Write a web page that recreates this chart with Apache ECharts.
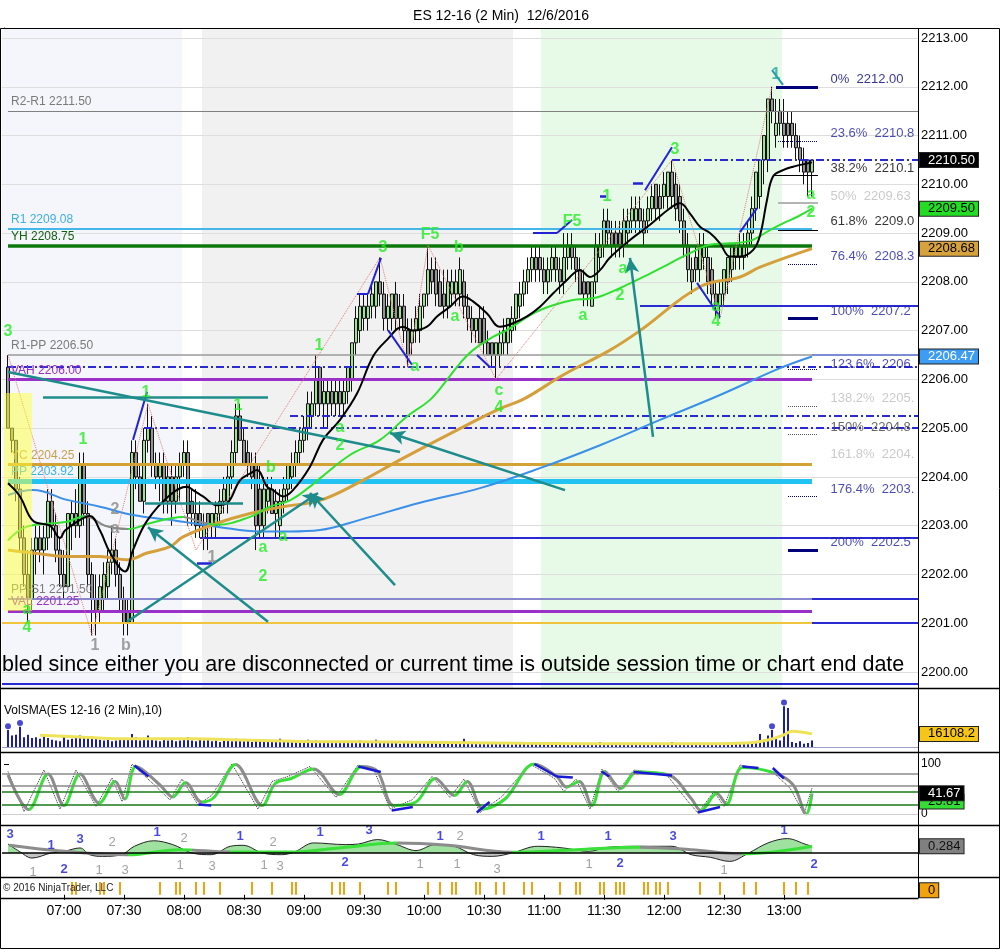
<!DOCTYPE html>
<html><head><meta charset="utf-8">
<script src="https://cdn.jsdelivr.net/npm/echarts@6/dist/echarts.min.js"></script>
<style>html,body{margin:0;padding:0;background:#fff}#c{width:1002px;height:952px}</style>
</head><body><div id="c"></div><script>
const FONT = '"Liberation Sans", Arial, sans-serif';
const NARROW = '"Liberation Sans Narrow", "Liberation Sans", Arial, sans-serif';
const N_SLOTS = 229;
const FIRST = 1;

// ---- price bars (2-min, 06:32 .. 13:14) ----
const opens = [
2206.25,2205.0,2204.75,2203.75,2202.75,2202.0,2201.5,2202.5,2202.75,2202.5,
2202.75,2203.5,2203.0,2202.5,2202.0,2201.75,2203.0,2203.25,2203.0,2204.25,
2203.25,2202.0,2201.5,2201.25,2201.5,2201.75,2202.25,2202.5,2202.0,2201.5,
2201.25,2201.0,2204.5,2204.0,2203.5,2204.75,2205.0,2204.25,2204.0,2204.25,
2203.5,2204.0,2203.5,2204.0,2204.25,2204.5,2203.5,2203.25,2203.25,2202.75,
2203.25,2203.0,2203.0,2203.25,2203.5,2203.5,2204.0,2204.5,2205.25,2204.75,
2204.5,2204.25,2204.25,2203.75,2203.0,2203.5,2203.75,2203.25,2203.0,2203.5,
2203.75,2204.0,2204.25,2204.5,2204.75,2205.0,2205.25,2205.5,2206.25,2205.5,
2205.5,2205.75,2205.5,2205.75,2205.5,2205.75,2206.0,2206.75,2207.0,2207.25,
2207.25,2207.5,2207.5,2208.0,2207.75,2207.25,2207.25,2207.75,2207.25,2207.5,
2207.0,2206.75,2207.0,2207.0,2207.5,2207.75,2208.25,2208.25,2208.0,2207.75,
2207.5,2207.75,2207.75,2207.75,2208.0,2207.5,2207.25,2207.0,2207.25,2207.25,
2206.75,2206.75,2206.5,2206.5,2206.75,2206.75,2207.0,2207.25,2207.5,2207.75,
2208.0,2208.25,2208.5,2208.5,2208.25,2208.0,2208.25,2208.5,2208.25,2208.0,
2208.5,2208.75,2208.5,2208.25,2208.0,2208.0,2207.5,2208.0,2208.5,2208.75,
2209.25,2209.0,2209.0,2209.0,2208.75,2209.0,2209.25,2209.25,2209.5,2209.25,
2209.25,2209.5,2210.0,2209.75,2209.75,2209.75,2210.25,2210.0,2209.75,2209.25,
2208.75,2208.25,2208.5,2208.25,2208.5,2208.5,2208.25,2207.75,2207.5,2207.75,
2208.0,2208.25,2208.5,2208.5,2208.5,2208.75,2209.0,2209.5,2209.75,2210.5,
2210.5,2211.75,2211.0,2211.5,2211.25,2211.25,2211.25,2211.0,2210.75,2210.5,
2210.5,2210.25];
const highs = [
2206.5,2205.0,2204.75,2204.0,2203.0,2202.5,2202.75,2203.0,2203.0,2203.0,
2203.75,2203.75,2203.25,2202.75,2202.5,2203.25,2203.5,2203.75,2204.5,2204.5,
2203.5,2202.25,2202.0,2202.0,2202.25,2202.5,2203.0,2202.75,2202.25,2201.75,
2201.5,2204.75,2204.75,2204.25,2205.0,2205.5,2205.25,2204.5,2204.5,2204.5,
2204.25,2204.25,2204.25,2204.5,2204.75,2204.75,2203.75,2203.75,2203.5,2203.25,
2203.25,2203.25,2203.5,2203.75,2204.0,2204.25,2204.75,2205.5,2205.5,2205.0,
2204.75,2204.5,2204.5,2204.25,2204.0,2204.0,2204.0,2203.75,2203.75,2204.0,
2204.25,2204.5,2204.75,2205.0,2205.25,2205.75,2205.75,2206.5,2206.25,2206.0,
2206.0,2206.0,2206.0,2206.0,2206.0,2206.25,2206.75,2207.5,2207.75,2207.75,
2207.75,2208.0,2208.0,2208.5,2208.0,2207.75,2207.75,2208.0,2207.75,2207.75,
2207.25,2207.25,2207.5,2207.75,2207.75,2208.75,2208.5,2208.5,2208.25,2208.25,
2208.25,2208.25,2208.25,2208.5,2208.25,2207.75,2207.5,2207.25,2207.5,2207.5,
2207.0,2206.75,2206.75,2207.0,2207.25,2207.25,2207.5,2207.75,2208.0,2208.25,
2208.5,2208.75,2208.75,2208.75,2208.5,2208.5,2208.75,2208.75,2208.5,2209.0,
2209.0,2209.0,2208.75,2208.5,2208.25,2208.0,2208.0,2209.0,2209.0,2209.5,
2209.5,2209.25,2209.25,2209.25,2209.5,2209.5,2209.75,2209.75,2209.75,2209.5,
2209.75,2210.0,2210.0,2210.0,2210.25,2210.25,2210.5,2210.25,2210.0,2209.5,
2209.0,2208.5,2208.75,2209.0,2209.0,2208.75,2208.5,2208.0,2208.0,2208.25,
2208.5,2208.75,2208.75,2209.0,2209.0,2209.25,2209.75,2210.25,2210.5,2211.0,
2211.75,2212.0,2211.75,2211.75,2211.75,2211.5,2211.5,2211.25,2211.0,2210.75,
2210.5,2210.5];
const lows = [
2205.0,2204.5,2203.5,2202.5,2201.75,2201.0,2201.25,2202.0,2202.25,2202.0,
2202.5,2202.75,2202.25,2201.75,2201.5,2201.75,2202.5,2202.75,2202.75,2203.0,
2201.75,2200.75,2200.75,2201.0,2201.25,2201.5,2202.0,2201.75,2201.25,2200.75,
2200.75,2201.0,2203.75,2203.5,2203.25,2204.5,2204.0,2203.75,2203.5,2203.25,
2203.25,2203.0,2203.25,2203.5,2204.0,2203.0,2203.0,2202.75,2202.75,2202.5,
2202.5,2202.75,2202.75,2203.0,2203.25,2203.25,2203.75,2204.25,2204.75,2204.25,
2204.0,2203.75,2202.5,2202.75,2202.75,2203.25,2203.25,2202.75,2202.75,2203.25,
2203.5,2203.75,2204.0,2204.25,2204.5,2204.75,2205.0,2205.25,2205.25,2205.0,
2205.0,2205.25,2205.25,2205.25,2205.25,2205.5,2205.75,2206.5,2206.75,2207.0,
2207.0,2207.25,2207.25,2207.5,2207.0,2207.0,2207.0,2207.0,2207.0,2206.75,
2206.25,2206.5,2206.75,2206.75,2207.25,2207.5,2207.75,2207.5,2207.5,2207.25,
2207.25,2207.5,2207.5,2207.5,2207.25,2207.0,2206.75,2206.75,2206.75,2206.5,
2206.5,2206.25,2206.0,2206.25,2206.5,2206.5,2206.75,2207.0,2207.25,2207.5,
2207.75,2208.0,2208.0,2208.0,2207.75,2207.75,2208.0,2208.0,2207.75,2207.75,
2208.25,2208.25,2208.0,2207.75,2207.5,2207.5,2207.5,2207.75,2208.25,2208.5,
2208.75,2208.5,2208.5,2208.5,2208.5,2208.75,2209.0,2209.0,2209.0,2208.75,
2209.0,2209.25,2209.25,2209.25,2209.5,2209.5,2209.5,2209.25,2209.0,2208.5,
2208.0,2207.75,2208.0,2208.0,2208.25,2207.75,2207.5,2207.25,2207.25,2207.5,
2207.75,2208.0,2208.25,2208.25,2208.25,2208.5,2208.75,2209.25,2209.5,2210.0,
2210.25,2211.25,2210.75,2211.0,2210.75,2210.75,2210.75,2210.5,2210.25,2210.0,
2209.75,2209.75];
const closes = [
2205.0,2204.75,2203.75,2202.75,2202.0,2201.5,2202.5,2202.75,2202.5,2202.75,
2203.5,2203.0,2202.5,2202.0,2201.75,2203.25,2203.25,2203.0,2204.25,2203.25,
2202.0,2201.5,2201.25,2201.75,2202.0,2202.25,2202.5,2202.0,2201.5,2201.0,
2201.0,2204.5,2204.0,2203.5,2204.75,2205.0,2204.25,2204.0,2204.25,2203.5,
2204.0,2203.5,2204.0,2204.25,2204.5,2203.25,2203.25,2203.0,2203.0,2203.0,
2203.0,2203.25,2203.25,2203.5,2203.75,2204.0,2204.5,2205.25,2204.75,2204.25,
2204.25,2204.0,2203.0,2203.0,2203.75,2203.75,2203.25,2203.5,2203.5,2203.75,
2204.25,2204.25,2204.5,2204.75,2205.0,2205.5,2205.5,2206.0,2205.5,2205.75,
2205.75,2205.5,2205.75,2205.5,2205.75,2206.25,2206.75,2207.25,2207.5,2207.5,
2207.5,2207.75,2208.0,2207.75,2207.25,2207.5,2207.75,2207.25,2207.5,2207.0,
2206.5,2207.0,2207.25,2207.5,2207.75,2208.25,2208.0,2207.75,2207.5,2207.5,
2208.0,2208.0,2208.0,2208.25,2207.5,2207.25,2207.0,2207.25,2206.75,2206.75,
2206.5,2206.5,2206.75,2206.75,2207.0,2207.25,2207.25,2207.75,2207.75,2208.0,
2208.25,2208.5,2208.25,2208.25,2208.0,2208.25,2208.5,2208.25,2208.0,2208.5,
2208.75,2208.5,2208.25,2207.75,2207.75,2207.75,2208.0,2208.75,2208.75,2209.25,
2209.0,2208.75,2208.75,2208.75,2209.25,2209.25,2209.5,2209.5,2209.25,2209.0,
2209.5,2209.75,2209.5,2209.5,2210.0,2210.25,2209.75,2209.5,2209.25,2208.75,
2208.25,2208.0,2208.25,2208.75,2208.75,2208.0,2207.75,2207.5,2207.75,2208.25,
2208.5,2208.75,2208.75,2208.75,2208.75,2209.0,2209.5,2210.25,2210.5,2211.0,
2211.75,2211.5,2211.25,2211.25,2211.0,2211.0,2211.0,2210.75,2210.5,2210.25,
2210.25,2210.5];

const volumes = [
21000,14000,15000,25000,12000,15000,11000,12000,10000,13000,
11000,9000,8000,7000,13000,9000,10000,12000,14000,11000,
12000,13000,10000,9000,8000,9000,7000,8000,10000,11000,
9000,16000,12000,8000,10000,14000,9000,8000,7000,9000,
8000,10000,7000,8000,9000,12000,8000,7000,9000,8000,
10000,7000,8000,6000,9000,8000,7000,10000,9000,7000,
8000,6000,9000,8000,7000,8000,6000,7000,10000,8000,
7000,6000,8000,7000,6000,9000,7000,8000,6000,7000,
6000,5000,7000,6000,5000,6000,7000,5000,8000,6000,
5000,6000,9000,7000,6000,5000,6000,5000,4000,6000,
5000,7000,6000,5000,6000,7000,5000,6000,5000,4000,
5000,4000,6000,5000,10000,5000,4000,5000,4000,5000,
4000,6000,4000,5000,4000,5000,3000,4000,5000,4000,
3000,4000,3000,4000,5000,3000,4000,3000,5000,4000,
3000,4000,3000,5000,4000,3000,4000,5000,6000,4000,
3000,4000,3000,4000,5000,4000,3000,4000,3000,4000,
5000,4000,3000,4000,5000,4000,6000,5000,4000,3000,
4000,5000,4000,3000,4000,5000,4000,3000,4000,5000,
4000,3000,4000,5000,4000,5000,6000,7000,16000,9000,
14000,21000,12000,8000,50000,48000,6000,5000,7000,4000,
5000,8000];
const volSma = [[9,14500],[20,12000],[31,10000],[47,10000],[60,8500],[79,6500],[95,6200],[111,5500],[130,4500],[143,4100],[160,4000],[175,4100],[186,5000],[191,8500],[195,15000],[197,19400],[202,16108]];
const volDotBars = [1,4,192,195];

// ---- moving averages [bar, price] ----
const fastMa = [[1,2203.87],[4,2203.6],[7.25,2203.1],[11.5,2203.0],[14,2202.75],[15.25,2202.9],[19,2203.12],[21.5,2203.2],[24,2202.9],[26.5,2202.45],[30.25,2202.06],[32.25,2202.5],[35.75,2203.1],[41.5,2203.63],[45.75,2203.8],[47.25,2203.73],[49.75,2203.6],[53.25,2203.42],[55.75,2203.46],[59,2203.93],[61.5,2204.07],[63.25,2204.14],[65.75,2203.8],[67.25,2203.73],[69.75,2203.6],[72.25,2203.73],[76.5,2204.21],[79.75,2204.76],[84,2205.17],[88.25,2205.71],[92.25,2206.47],[95.75,2206.81],[99.75,2207.08],[102.25,2207.0],[105.75,2207.08],[108.25,2207.29],[111.5,2207.49],[114.75,2207.7],[117.25,2207.6],[120.75,2207.35],[124,2207.08],[127.25,2207.15],[130.75,2207.29],[134,2207.49],[137.25,2207.76],[140.75,2208.04],[144,2208.24],[146.5,2208.1],[149,2208.24],[151.5,2208.5],[156.5,2208.86],[161.5,2209.17],[166.5,2209.51],[169,2209.61],[171.5,2209.4],[174,2209.13],[176.5,2209.0],[179,2208.79],[181.5,2208.52],[184,2208.52],[187.25,2208.65],[189,2208.95],[190.75,2209.68],[192.25,2210.16],[194.75,2210.29],[197.25,2210.36],[202,2210.45]];
const midMa = [[1,2202.7],[5.75,2202.98],[15.75,2203.08],[20.25,2203.2],[25.25,2203.0],[31,2202.93],[36.5,2203.05],[44.75,2203.18],[49,2203.08],[53.25,2203.02],[61.5,2203.18],[66.5,2203.39],[71.5,2203.52],[76.5,2203.8],[79,2203.97],[86.5,2204.45],[94,2204.76],[100.75,2205.24],[106.5,2205.58],[110.75,2205.99],[114,2206.33],[117.25,2206.6],[122.25,2206.87],[125.75,2207.01],[132.25,2207.35],[137.25,2207.52],[142.25,2207.63],[145.75,2207.65],[149,2207.7],[156.5,2207.97],[161.5,2208.17],[166.5,2208.38],[171.5,2208.59],[176.5,2208.76],[181.5,2208.79],[186.5,2208.84],[191.5,2209.06],[194.75,2209.2],[198.25,2209.33],[202,2209.5]];
const slowMa = [[1,2202.5],[7.25,2202.44],[15.75,2202.37],[24,2202.37],[30.75,2202.3],[35.75,2202.44],[41.5,2202.57],[44.75,2202.77],[53.25,2203.05],[61.5,2203.25],[69.75,2203.39],[79,2203.52],[89,2203.9],[99,2204.35],[113,2204.95],[124,2205.4],[130,2205.6],[140,2206.1],[151.5,2206.6],[159,2207.0],[174,2207.9],[184,2208.1],[189,2208.3],[202,2208.68]];
const longMa = [[1,2203.63],[7.25,2203.73],[15.75,2203.53],[24,2203.39],[32.25,2203.22],[41.5,2203.12],[44.75,2203.08],[53.25,2202.98],[64,2202.88],[71.5,2202.88],[79,2202.91],[89,2203.12],[104,2203.47],[119,2203.77],[134,2204.18],[149,2204.65],[164,2205.17],[179,2205.68],[194,2206.23],[202,2206.47]];
const zigzag = [[1,2206.5],[22,2200.75],[36,2205.5],[48,2202.5],[94,2208.5],[101,2206.25],[106,2208.75],[123,2206.0],[167,2210.5],[179,2207.25],[192,2212.0]];

// ---- pivot / level lines ----
const levelNames = ['R2-R1','R1','YH','R1-PP','VAH','YC','PP','PP-S1','VAL'];
const levelPrices = [2211.50, 2209.08, 2208.75, 2206.50, 2206.00, 2204.25, 2203.92, 2201.50, 2201.25];
const fibPct = ['0%','23.6%','38.2%','50%','61.8%','76.4%','100%','123.6%','138.2%','150%','161.8%','176.4%','200%'];
const fibPrices = ['2212.00','2210.88','2210.19','2209.63','2209.06','2208.37','2207.25','2206.2','2205.4','2204.88','2204.3','2203.6','2202.50'];
const priceTicks = [2200,2201,2202,2203,2204,2205,2206,2207,2208,2209,2210,2211,2212,2213];

// ---- wave labels [bar, price, text] ----
const greenLabels = [[1,2206.97,'3'],[5.75,2201.27,'a'],[5.75,2200.92,'4'],[19.75,2204.76,'1'],[35.5,2205.72,'1'],[58.5,2205.47,'1'],[66.75,2204.2,'b'],[69.75,2202.77,'a'],[64.75,2202.56,'a'],[64.75,2201.95,'2'],[78.75,2206.7,'1'],[84,2205.02,'a'],[84,2204.65,'2'],[94.75,2208.71,'3'],[106.5,2208.96,'F5'],[113.75,2208.71,'b'],[112.75,2207.28,'a'],[102.75,2206.27,'a'],[123.75,2205.78,'c'],[123.75,2205.43,'4'],[142,2209.23,'F5'],[144.75,2207.3,'a'],[150.75,2209.74,'1'],[154.75,2208.28,'a'],[154,2207.71,'2'],[167.75,2210.72,'3'],[178,2207.5,'a'],[178,2207.18,'4'],[201.75,2209.78,'a'],[201.75,2209.41,'2']];
const grayLabels = [[27.75,2203.32,'2'],[27.75,2202.95,'a'],[22.75,2200.55,'1'],[30.5,2200.55,'b'],[52,2202.34,'1']];
const tealLabels = [[193,2212.24,'1']];

// ---- stochastics [bar, value] ----
const stochD = [[1,78],[6.2,9],[11,80],[15,17],[19,80],[23.8,22],[27.8,65],[30.2,30],[33,95],[39,58],[42.2,34],[45.4,63],[49.4,24],[52.6,34],[57.9,99],[64.6,17],[67.8,61],[71.8,71],[77.4,90],[83.8,39],[89.4,95],[93.4,85],[97.4,17],[103,24],[107.8,71],[112.6,37],[115.8,65],[119.8,10],[125.4,31],[132.6,100],[138.2,75],[140.6,54],[143.8,65],[147,17],[150.2,85],[154.2,51],[158.2,84],[166.2,78],[171.8,31],[174.2,7],[178.2,41],[180.6,20],[184.6,93],[192.6,82],[197.3,58],[200.6,0],[202,41]];
const stochK = [[1,85],[5,5],[10,88],[14,10],[18,88],[23,15],[27,72],[29.5,25],[32,100],[38,55],[41.5,28],[44.5,70],[48.5,18],[52,38],[57,100],[63.5,10],[67,65],[71,75],[76.5,95],[83,33],[88.5,98],[92.5,88],[96.5,10],[102,28],[107,75],[111.5,33],[115,70],[119,3],[124.5,35],[131.5,100],[137.5,72],[140,45],[143,70],[146.5,10],[149.5,90],[153.5,45],[157.5,88],[165.5,80],[171,25],[173.5,2],[177.5,45],[180,15],[184,98],[192,85],[196.5,52],[200,0],[202,52]];
const stochUp = [[6.2,11],[15,19],[23.8,27.8],[30.2,33],[42.2,45.4],[49.4,57.9],[64.6,77.4],[83.8,89.4],[97.4,107.8],[112.6,115.8],[119.8,132.6],[140.6,143.8],[147,150.2],[154.2,166.2],[174.2,178.2],[180.6,192.6],[200.6,202]];
const stochDiv = [[32.6,97,36.1,75],[48.6,19,51.8,17],[88.6,95,94.2,84],[96.9,7,102.2,14],[118.2,3,121.4,24],[132.6,100,138.2,75],[138.2,75,142.2,73],[149.4,85,151.3,75],[157.4,84,167,77],[173.4,3,179,14],[184.6,95,188.6,92],[192.2,92,195,71]];

// ---- oscillator [bar, value] ----
const oscHist = [[1,0.375],[3.8,0.07],[7,-0.21],[11.8,0],[15,0.07],[19,0.21],[21.4,-0.07],[24.6,-0.14],[29.4,-0.07],[32.6,0.28],[37.4,0.51],[42.2,0.35],[47,0],[51.8,-0.07],[56.6,0.28],[59.8,0.32],[64.6,0],[69.4,-0.07],[72.6,0.04],[77.4,0.42],[85.4,0.35],[88.6,0.375],[93.4,0.56],[98.2,0.35],[103,0.1],[107.8,0.35],[112.6,0.28],[117.4,-0.07],[122.2,-0.14],[127,0],[133.4,0.28],[139.8,0.21],[146.2,0.07],[151,0.24],[159,0.28],[167,0.28],[171.8,-0.07],[176.6,-0.18],[181.4,-0.35],[186.2,0],[191,0.42],[195.8,0.6],[200.6,0.35],[202,0.28]];
const oscSignal = [[1.4,0.32],[15,0.07],[31,-0.07],[43.8,0.14],[56.6,0.04],[71,0.04],[85.4,0.24],[98.2,0.42],[111,0.32],[127,0.03],[143,0.14],[159,0.24],[171.8,0.14],[184.6,-0.03],[202,0.284]];
const oscUp = [[31,47],[56.6,98.2],[127,159],[184.6,202]];
const oscBlueLabels = [[1.5,0.79,'3'],[11.75,0.33,'1'],[19,0.58,'3'],[38.25,0.875,'1'],[59,0.71,'1'],[79,0.875,'1'],[91.25,0.96,'3'],[109,0.67,'1'],[134.25,0.67,'1'],[151,0.67,'1'],[167.25,0.71,'3'],[195,0.96,'1'],[15,-0.67,'2'],[85.25,-0.375,'2'],[154,-0.42,'2'],[202.5,-0.46,'2']];
const oscGrayLabels = [[27,0.42,'2'],[45,0.625,'2'],[67.25,0.42,'2'],[114,0.67,'2'],[7.25,-0.79,'1'],[23.75,-0.71,'1'],[30.25,-0.71,'3'],[44,-0.5,'1'],[52,-0.54,'3'],[65,-0.5,'1'],[69,-0.54,'3'],[104,-0.46,'1'],[113.25,-0.46,'1'],[123.25,-0.67,'3'],[146.25,-0.46,'1'],[180,-0.71,'1']];

// ---- bottom strip marker bars ----
const stripBars = [17,18,24,25,29,39,43,44,48,50,54,62,67,72,73,82,84,85,89,96,98,106,109,112,113,118,119,123,125,130,132,139,143,144,149,150,153,154,155,160,161,163,164,166,174,179,185,188,195,198,201];

// ================= build =================
const times = [];
for (let k = 0; k < N_SLOTS; k++) {
  const m = 6 * 60 + 30 + 2 * k;
  times.push(String(Math.floor(m / 60)).padStart(2, '0') + ':' + String(m % 60).padStart(2, '0'));
}
const candleData = times.map((t, k) => {
  const j = k - FIRST;
  return (j >= 0 && j < opens.length) ? [opens[j], closes[j], lows[j], highs[j]] : '-';
});
const volData = times.map((t, k) => {
  const j = k - FIRST;
  return (j >= 0 && j < volumes.length) ? volumes[j] : '-';
});
const stripData = times.map((t, k) => stripBars.indexOf(k) >= 0 ? 1 : '-');
const volDots = volDotBars.map(b => [b, volumes[b - FIRST] + 4500]);

const RIGHT = 228.5;
const FIB_END = 203.5;
const BLUE = '#2a2ad2';
const NAVY = '#00007a';
const TEAL = '#1f8c8c';

function seg(x1, y1, x2, y2, color, width, type, arrow) {
  return [
    {coord: [x1, y1], symbol: 'none', lineStyle: {color: color, width: width, type: type || 'solid'}},
    {coord: [x2, y2], symbol: arrow ? 'arrow' : 'none', symbolSize: arrow ? [11, 15] : 0}
  ];
}
function lvl(i, x1, x2, color, width, labelColor) {
  const s = seg(x1, levelPrices[i], x2, levelPrices[i], color, width);
  s[0].label = {show: true, position: 'insideStartTop', distance: 3, formatter: levelNames[i] + ' ' + levelPrices[i].toFixed(2), color: labelColor, fontSize: 12, fontFamily: FONT};
  return s;
}
function tag(v, text, bg, fg) {
  return {yAxis: v, lineStyle: {width: 0, color: 'rgba(0,0,0,0)'}, label: {show: true, position: 'end', distance: 2, formatter: text, backgroundColor: bg, color: fg, padding: [1, 3, 0, 8], fontSize: 13, fontFamily: FONT, borderColor: '#222', borderWidth: 1}};
}

const levelLines = [
  lvl(0, 1, RIGHT, '#808080', 1, '#7a7a7a'),
  lvl(1, 1, 202, '#45b6ea', 2, '#3eaee2'),
  lvl(2, 1, 202, '#0c780c', 3.5, '#0f5f0f'),
  lvl(3, 1, 202, '#9a9a9a', 1.5, '#7a7a7a'),
  seg(202, 2206.5, RIGHT, 2206.5, '#7d8ad6', 2),
  lvl(4, 1, 202, '#9b30c8', 3, '#9b30c8'),
  lvl(5, 1, 202, '#d2a233', 3, '#c8a04e'),
  lvl(6, 1, 202, '#22c2f2', 5, '#35b4ea'),
  lvl(7, 1, 202, '#8888cc', 2, '#7a7a7a'),
  seg(202, 2201.5, RIGHT, 2201.5, BLUE, 2),
  lvl(8, 1, 202, '#9b30c8', 3, '#9b30c8'),
  seg(-0.5, 2201.0, 202, 2201.0, '#f0c43c', 2),
  seg(202, 2201.0, RIGHT, 2201.0, BLUE, 2),
  seg(1, 2206.25, RIGHT, 2206.25, BLUE, 2, [8, 3, 2, 3]),
  seg(71.5, 2205.25, RIGHT, 2205.25, BLUE, 2, [8, 3, 2, 3]),
  seg(35, 2205.0, RIGHT, 2205.0, BLUE, 2, [8, 3, 2, 3]),
  seg(167, 2210.5, RIGHT, 2210.5, BLUE, 2, [8, 3, 2, 3]),
  seg(159, 2207.5, RIGHT, 2207.5, BLUE, 2),
  seg(49, 2202.75, RIGHT, 2202.75, BLUE, 2),
  seg(-0.5, 2199.75, RIGHT, 2199.75, BLUE, 2),
  seg(193, 2212.0, FIB_END, 2212.0, NAVY, 3),
  seg(193.5, 2210.875, FIB_END, 2210.875, NAVY, 1, 'dotted'),
  seg(192.5, 2210.19, FIB_END, 2210.19, '#000', 1),
  seg(193.5, 2209.63, FIB_END, 2209.63, '#b4b4b4', 2),
  seg(193.5, 2209.06, FIB_END, 2209.06, '#000', 1),
  seg(196, 2208.37, FIB_END, 2208.37, NAVY, 1, 'dotted'),
  seg(196, 2207.25, FIB_END, 2207.25, NAVY, 3),
  seg(196, 2206.2, FIB_END, 2206.2, NAVY, 1, 'dotted'),
  seg(196, 2205.45, FIB_END, 2205.45, '#555', 1, 'dotted'),
  seg(196, 2204.88, FIB_END, 2204.88, '#555', 1, 'dotted'),
  seg(196, 2203.6, FIB_END, 2203.6, NAVY, 1, 'dotted'),
  seg(196, 2202.5, FIB_END, 2202.5, NAVY, 3)
];

const drawLines = [
  seg(32.25, 2204.76, 35.75, 2205.74, '#2323d6', 2),
  seg(48.25, 2202.24, 52, 2202.24, '#2323d6', 2.5),
  seg(88.25, 2207.75, 91, 2207.75, '#2323d6', 2),
  seg(91, 2207.75, 94.25, 2208.49, '#2323d6', 2),
  seg(96, 2207.01, 102, 2206.3, '#2323d6', 2),
  seg(118.25, 2206.5, 121.5, 2206.25, '#2323d6', 2),
  seg(132.25, 2209.0, 138.25, 2209.0, '#2323d6', 2),
  seg(138.25, 2209.0, 142, 2209.27, '#2323d6', 2),
  seg(149, 2209.76, 150.5, 2209.76, '#2323d6', 2.5),
  seg(157.25, 2210.03, 159.75, 2210.03, '#2323d6', 2.5),
  seg(160.25, 2209.88, 167, 2210.76, '#2323d6', 2),
  seg(173.25, 2207.98, 179, 2207.28, '#2323d6', 2),
  seg(184, 2209.02, 188.25, 2209.51, '#2323d6', 2),
  seg(192, 2212.34, 194.75, 2212.04, '#2a9aa8', 2),
  seg(1, 2206.15, 99, 2204.51, TEAL, 2.5),
  seg(9.75, 2205.64, 66, 2205.64, TEAL, 2.5),
  seg(35.25, 2203.46, 59.75, 2203.46, TEAL, 2.5),
  seg(66, 2201.03, 36, 2202.97, TEAL, 2.5, null, true),
  seg(30.75, 2201.03, 78.5, 2203.67, TEAL, 2.5, null, true),
  seg(97.75, 2201.78, 76.5, 2203.67, TEAL, 2.5, null, true),
  seg(140.25, 2203.73, 96.5, 2204.9, TEAL, 2.5, null, true),
  seg(162.25, 2204.82, 156.5, 2208.49, TEAL, 2.5, null, true)
];

const fibColors = [NAVY, '#1c1ca8', '#000', '#bdbdbd', '#000', '#1c1ca8', '#1c1ca8', '#1c1ca8', '#bdbdbd', '#444', '#bdbdbd', '#1c1ca8', '#1c1ca8'];
const fibY = [2212.16, 2211.05, 2210.33, 2209.76, 2209.23, 2208.53, 2207.40, 2206.30, 2205.60, 2205.02, 2204.47, 2203.75, 2202.65];
const fibLabelData = fibPct.map((p, k) => ({
  value: [206.5, fibY[k], p + '  ' + fibPrices[k]],
  label: {color: fibColors[k]}
}));

const series = [];
function add(s) { series.push(Object.assign({silent: true, animation: false}, s)); return series.length - 1; }

add({type: 'line', xAxisIndex: 1, yAxisIndex: 0, data: [], z: 1,
  markArea: {silent: true, z: 1, data: [
    [{xAxis: -0.5, itemStyle: {color: '#f5f6fb'}}, {xAxis: 44.5}],
    [{xAxis: 49.5, itemStyle: {color: '#f1f1f1'}}, {xAxis: 127.25}],
    [{xAxis: 134.25, itemStyle: {color: '#e7fae7'}}, {xAxis: 194.5}]
  ]},
  markLine: {silent: true, z: 1, symbol: ['none', 'none'], label: {show: false}, lineStyle: {color: '#dedede', width: 1, type: 'solid'}, data: priceTicks.map(v => ({yAxis: v}))}
});
add({type: 'candlestick', xAxisIndex: 0, yAxisIndex: 0, data: candleData, barWidth: 3, z: 3,
  itemStyle: {color: '#9fe097', color0: '#959595', borderColor: '#111', borderColor0: '#111', borderWidth: 1}});
add({type: 'line', xAxisIndex: 1, yAxisIndex: 0, data: [], z: 4,
  markLine: {silent: true, z: 4, symbol: ['none', 'none'], label: {show: false}, data: levelLines}});
add({type: 'line', xAxisIndex: 1, yAxisIndex: 0, data: longMa, smooth: 0.4, symbol: 'none', z: 5, lineStyle: {color: '#3a8fe8', width: 2}});
add({type: 'line', xAxisIndex: 1, yAxisIndex: 0, data: slowMa, smooth: 0.4, symbol: 'none', z: 5, lineStyle: {color: '#d5a03c', width: 3}});
const midIdx = add({type: 'line', xAxisIndex: 1, yAxisIndex: 0, data: midMa, smooth: 0.4, symbol: 'none', z: 5, lineStyle: {width: 2}});
add({type: 'line', xAxisIndex: 1, yAxisIndex: 0, data: fastMa, smooth: 0.4, symbol: 'none', z: 6, lineStyle: {color: '#000', width: 2}});
add({type: 'line', xAxisIndex: 1, yAxisIndex: 0, data: zigzag, symbol: 'none', z: 5, lineStyle: {color: '#e07a7a', width: 1, type: 'dotted'}});
add({type: 'line', xAxisIndex: 1, yAxisIndex: 0, data: [], z: 6,
  markArea: {silent: true, z: 6, data: [[{coord: [0, 2205.72], itemStyle: {color: 'rgba(255,255,60,0.5)'}}, {coord: [7, 2201.25]}]]}});
add({type: 'line', xAxisIndex: 1, yAxisIndex: 0, data: [], z: 7,
  markLine: {silent: true, z: 7, symbol: ['none', 'none'], label: {show: false}, data: drawLines}});
const lblStyle = (c, sz, w) => ({show: true, position: 'inside', formatter: p => p.value[2], color: c, fontSize: sz, fontWeight: w || 'bold', fontFamily: FONT, textBorderWidth: 0, textShadowBlur: 0});
const lblSeries = (axisX, axisY, data, c, sz, w) => ({type: 'scatter', xAxisIndex: axisX, yAxisIndex: axisY, symbolSize: 1, z: 8, data: data,
  itemStyle: {color: 'rgba(0,0,0,0)'}, label: lblStyle(c, sz, w)});
add(lblSeries(1, 0, greenLabels, '#22ee22', 16));
add(lblSeries(1, 0, grayLabels, '#888888', 16));
add(lblSeries(1, 0, tealLabels, '#20a8a0', 16));
add({type: 'scatter', xAxisIndex: 1, yAxisIndex: 0, symbolSize: 1, z: 8, data: fibLabelData, itemStyle: {color: 'rgba(0,0,0,0)'},
  label: {show: true, position: 'right', distance: 0, formatter: p => p.value[2], fontSize: 13, fontFamily: FONT, width: 86, overflow: 'truncate', ellipsis: '', textBorderWidth: 0}});
add({type: 'line', xAxisIndex: 1, yAxisIndex: 0, data: [], z: 9,
  markLine: {silent: true, z: 9, symbol: ['none', 'none'], data: [
    tag(2206.47, '2206.47', '#3d9df5', '#fff'),
    tag(2208.68, '2208.68', '#d6a23e', '#000'),
    tag(2209.50, '2209.50', '#24dc24', '#000'),
    tag(2210.50, '2210.50', '#000', '#fff')
  ]}});

// volume panel
add({type: 'bar', xAxisIndex: 2, yAxisIndex: 1, data: volData, barWidth: 2, itemStyle: {color: '#1c1cae'}, z: 3});
add({type: 'line', xAxisIndex: 3, yAxisIndex: 1, data: volSma, smooth: 0.4, symbol: 'none', z: 4, lineStyle: {color: '#efe35a', width: 3}});
add({type: 'scatter', xAxisIndex: 3, yAxisIndex: 1, data: volDots, symbol: 'circle', symbolSize: 6, itemStyle: {color: '#1c1cc8'}, z: 5});
add({type: 'line', xAxisIndex: 3, yAxisIndex: 1, data: [], z: 6,
  markLine: {silent: true, symbol: ['none', 'none'], data: [
    {yAxis: 0, lineStyle: {color: '#9aa0c8', width: 1, type: 'solid'}, label: {show: false}},
    tag(16108.2, '16108.2', '#f5c518', '#000')
  ]}});

// stochastics panel
add({type: 'line', xAxisIndex: 4, yAxisIndex: 2, data: [], z: 2,
  markLine: {silent: true, symbol: ['none', 'none'], label: {show: false}, data: [
    {yAxis: 80, lineStyle: {color: '#8a8a8a', width: 1.5, type: 'solid'}},
    {yAxis: 56, lineStyle: {color: '#8a8a8a', width: 1.5, type: 'solid'}},
    {yAxis: 45, lineStyle: {color: '#1a781a', width: 1.5, type: 'solid'}},
    {yAxis: 19, lineStyle: {color: '#1a781a', width: 1.5, type: 'solid'}},
    {yAxis: 0, lineStyle: {color: '#d0d0d0', width: 1, type: 'solid'}}
  ]}});
add({type: 'line', xAxisIndex: 4, yAxisIndex: 2, data: stochK, symbol: 'none', z: 3, lineStyle: {color: '#222', width: 1, type: 'dotted'}});
const dIdx = add({type: 'line', xAxisIndex: 4, yAxisIndex: 2, data: stochD, smooth: 0.35, symbol: 'none', z: 4, lineStyle: {width: 3}});
add({type: 'line', xAxisIndex: 4, yAxisIndex: 2, data: [], z: 5,
  markLine: {silent: true, symbol: ['none', 'none'], label: {show: false}, data:
    stochDiv.map(d => seg(d[0], d[1], d[2], d[3], '#1a1ad6', 2.5)).concat([
      tag(25, '25.81', '#33dd33', '#000'),
      tag(41.67, '41.67', '#000', '#fff')
    ])}});

// oscillator panel
const histIdx = add({type: 'line', xAxisIndex: 5, yAxisIndex: 3, data: oscHist, smooth: 0.35, symbol: 'none', z: 2, lineStyle: {width: 0}, areaStyle: {opacity: 0.75}});
add({type: 'line', xAxisIndex: 5, yAxisIndex: 3, data: oscHist, smooth: 0.35, symbol: 'none', z: 3, lineStyle: {color: '#222', width: 1}});
add({type: 'line', xAxisIndex: 5, yAxisIndex: 3, data: [], z: 3,
  markLine: {silent: true, symbol: ['none', 'none'], data: [
    {yAxis: 0, lineStyle: {color: '#000', width: 1.5, type: 'solid'}, label: {show: false}},
    tag(0.284, '0.284', '#808080', '#111')
  ]}});
const sigIdx = add({type: 'line', xAxisIndex: 5, yAxisIndex: 3, data: oscSignal, smooth: 0.4, symbol: 'none', z: 4, lineStyle: {width: 3}});
add(lblSeries(5, 3, oscBlueLabels, '#1a1ad6', 13));
add(lblSeries(5, 3, oscGrayLabels, '#8a8a8a', 13, 'normal'));

// bottom strip
add({type: 'bar', xAxisIndex: 6, yAxisIndex: 4, data: stripData, barWidth: 2, itemStyle: {color: '#f2a20c'}, z: 2});
add({type: 'line', xAxisIndex: 6, yAxisIndex: 4, data: [], z: 3,
  markLine: {silent: true, symbol: ['none', 'none'], data: [tag(0.35, '0', '#f2a20c', '#000')]}});

const labIdx = (idx, val) => idx >= 1 && idx <= 202 && (val.slice(3) === '00' || val.slice(3) === '30');
const grids = [
  {left: 2, width: 916, top: 28, height: 660},
  {left: 2, width: 916, top: 690, height: 57},
  {left: 2, width: 916, top: 764, height: 50},
  {left: 2, width: 916, top: 829, height: 48},
  {left: 2, width: 916, top: 880, height: 18}
];
const catAxis = (g, showLab) => ({type: 'category', gridIndex: g, data: times, boundaryGap: true,
  axisLine: {show: false}, splitLine: {show: false},
  axisTick: {show: showLab, interval: labIdx, alignWithLabel: true, length: 5, lineStyle: {color: '#000'}},
  axisLabel: {show: showLab, interval: labIdx, margin: 6, color: '#000', fontSize: 14, fontFamily: NARROW}});
const valAxis = g => ({type: 'value', gridIndex: g, min: -0.5, max: RIGHT, show: false});

const option = {
  animation: false,
  backgroundColor: '#fff',
  title: {text: 'ES 12-16 (2 Min)  12/6/2016', left: 'center', top: 4, textStyle: {fontSize: 14, fontWeight: 'normal', color: '#000', fontFamily: FONT}},
  grid: grids,
  xAxis: [catAxis(0, false), valAxis(0), catAxis(1, false), valAxis(1), valAxis(2), valAxis(3), catAxis(4, true)],
  yAxis: [
    {type: 'value', gridIndex: 0, position: 'right', min: 2199.672, max: 2213.205, scale: true,
      axisLine: {show: true, lineStyle: {color: '#000'}},
      axisTick: {show: true, customValues: priceTicks, length: 5, lineStyle: {color: '#000'}},
      axisLabel: {customValues: priceTicks, formatter: v => Number(v).toFixed(2), margin: 3, color: '#000', fontSize: 13, fontFamily: FONT},
      splitLine: {show: false}},
    {type: 'value', gridIndex: 1, position: 'right', min: 0, max: 70000, show: false},
    {type: 'value', gridIndex: 2, position: 'right', min: 0, max: 100, interval: 100,
      axisLine: {show: false}, axisTick: {show: true, length: 5, lineStyle: {color: '#000'}},
      axisLabel: {margin: 3, color: '#000', fontSize: 12, fontFamily: FONT}, splitLine: {show: false}},
    {type: 'value', gridIndex: 3, position: 'right', min: -1, max: 1, show: false},
    {type: 'value', gridIndex: 4, position: 'right', min: -0.25, max: 1.15, show: false}
  ],
  visualMap: [
    {type: 'piecewise', show: false, seriesIndex: midIdx, dimension: 0,
      pieces: [{gte: 20, lte: 31, color: '#8a8a8a'}, {gte: 45, lte: 51, color: '#8a8a8a'}], outOfRange: {color: '#30e030'}},
    {type: 'piecewise', show: false, seriesIndex: dIdx, dimension: 0,
      pieces: stochUp.map(r => ({gte: r[0], lte: r[1], color: '#38e038'})), outOfRange: {color: '#8c8c8c'}},
    {type: 'piecewise', show: false, seriesIndex: sigIdx, dimension: 0,
      pieces: oscUp.map(r => ({gte: r[0], lte: r[1], color: '#38e038'})), outOfRange: {color: '#8c8c8c'}},
    {type: 'piecewise', show: false, seriesIndex: histIdx, dimension: 1,
      pieces: [{gt: 0, lte: 2, color: '#7fd87f'}, {gte: -2, lte: 0, color: '#b0b0b0'}], outOfRange: {color: '#b0b0b0'}}
  ],
  graphic: [
    {type: 'rect', silent: true, z: 100, shape: {x: 0.5, y: 28.5, width: 999, height: 920}, style: {fill: 'none', stroke: '#000', lineWidth: 1}},
    {type: 'line', silent: true, z: 100, shape: {x1: 0, y1: 688.5, x2: 1000, y2: 688.5}, style: {stroke: '#000', lineWidth: 1.5}},
    {type: 'line', silent: true, z: 100, shape: {x1: 0, y1: 752.5, x2: 1000, y2: 752.5}, style: {stroke: '#000', lineWidth: 1.5}},
    {type: 'line', silent: true, z: 100, shape: {x1: 0, y1: 825.5, x2: 1000, y2: 825.5}, style: {stroke: '#000', lineWidth: 1.5}},
    {type: 'line', silent: true, z: 100, shape: {x1: 0, y1: 877.5, x2: 1000, y2: 877.5}, style: {stroke: '#000', lineWidth: 1.5}},
    {type: 'line', silent: true, z: 100, shape: {x1: 0, y1: 898.5, x2: 918.5, y2: 898.5}, style: {stroke: '#000', lineWidth: 1.5}},
    {type: 'line', silent: true, z: 100, shape: {x1: 918.5, y1: 28, x2: 918.5, y2: 898}, style: {stroke: '#000', lineWidth: 1}},
    {type: 'text', silent: true, z: 101, left: 2, top: 654, style: {text: 'bled since either you are disconnected or current time is outside session time or chart end date', fill: '#000', font: '21.5px ' + FONT}},
    {type: 'text', silent: true, z: 101, left: 4, top: 705, style: {text: 'VolSMA(ES 12-16 (2 Min),10)', fill: '#000', font: '12px ' + FONT}},
    {type: 'text', silent: true, z: 101, left: 3, top: 883, style: {text: '\u00a9 2016 NinjaTrader, LLC', fill: '#222', font: '10px ' + FONT}}
  ],
  series: series
};
const chart = echarts.init(document.getElementById('c'));
chart.setOption(option);
</script></body></html>
